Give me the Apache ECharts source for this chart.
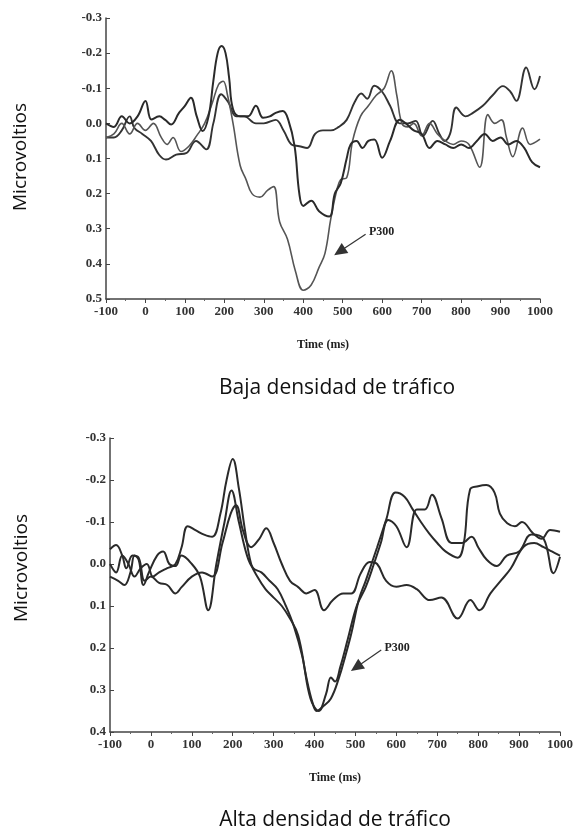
<!DOCTYPE html>
<html>
<head>
<meta charset="utf-8">
<script src="https://cdn.jsdelivr.net/npm/echarts/dist/echarts.min.js"></script>
<style>
  html, body { margin: 0; padding: 0; background: #fff; }
  #main { width: 576px; height: 834px; }
</style>
</head>
<body>
<div id="main"></div>
<script>
// Baja densidad (top panel) - three ERP waveforms, time in ms / value in microvolts
const topA_t = [-100,-80,-60,-40,-20,0,15,35,50,65,85,100,115,130,145,160,172,183,193,203,212,222,240,260,280,298,315,330,348,362,378,390,400,420,440,466,480,495,510,520,535,550,565,580,600,620,645,660,680,700,720,740,760,780,800,820,840,860,880,900,920,940,960,980,1000];
const topA_v = [0.0,0.01,-0.02,0.0,-0.02,-0.064,-0.011,-0.02,-0.01,0.003,-0.03,-0.05,-0.073,-0.02,0.022,-0.02,-0.12,-0.2,-0.22,-0.2,-0.13,-0.04,-0.02,-0.02,-0.05,-0.016,-0.02,-0.03,-0.035,-0.01,0.065,0.2,0.235,0.22,0.25,0.265,0.2,0.17,0.1,0.06,0.05,0.07,0.05,0.046,0.098,0.05,-0.01,0.0,0.02,0.03,0.07,0.05,0.06,0.07,0.06,0.07,0.05,0.03,0.05,0.04,0.06,0.05,0.07,0.11,0.125];

const topB_t = [-100,-80,-60,-40,-20,0,20,40,55,70,90,110,130,150,170,185,197,208,222,240,255,270,290,310,325,340,360,380,400,420,440,455,470,485,495,510,525,545,565,585,605,623,637,650,665,680,700,720,740,760,780,800,820,847,868,885,902,915,931,956,975,1000];
const topB_v = [0.04,0.03,0.0,0.03,0.0,0.02,0.0,0.04,0.06,0.04,0.08,0.065,0.035,0.0,-0.06,-0.11,-0.12,-0.08,0.0,0.12,0.16,0.2,0.21,0.19,0.18,0.28,0.33,0.42,0.475,0.46,0.41,0.37,0.27,0.19,0.16,0.155,0.05,-0.02,-0.05,-0.08,-0.1,-0.15,-0.08,0.0,0.01,0.0,0.035,0.0,0.03,0.05,0.06,0.05,0.06,0.125,-0.025,0.0,-0.01,0.04,0.095,0.013,0.06,0.045];

const topS_t = [-100,-80,-60,-40,-28,-8,14,35,52,78,103,128,154,172,192,210,230,250,280,300,330,350,370,390,410,430,450,470,490,510,530,547,562,580,600,620,644,665,685,703,728,745,758,772,788,811,830,855,880,906,925,940,965,986,1000];
const topS_v = [0.04,0.04,0.02,-0.02,0.013,0.03,0.05,0.09,0.103,0.089,0.085,0.05,0.074,0.0,-0.083,-0.06,-0.02,-0.02,0.0,0.0,-0.01,0.02,0.06,0.065,0.07,0.03,0.02,0.02,0.01,-0.01,-0.06,-0.085,-0.07,-0.107,-0.09,-0.05,0.0,0.0,-0.007,0.036,-0.007,0.03,0.05,0.03,-0.045,-0.02,-0.03,-0.05,-0.08,-0.106,-0.09,-0.064,-0.159,-0.097,-0.135];

// Alta densidad (bottom panel)
const botC_t = [-100,-85,-70,-55,-40,-25,-10,5,20,40,60,75,90,110,130,150,170,185,200,215,230,245,260,280,300,320,340,360,380,395,405,420,440,460,475,490,508,525,553,575,598,620,640,660,680,700,720,750,765,780,800,820,840,853,871,890,907,934,955,976,1000];
const botC_v = [0.0,0.02,-0.02,0.0,0.03,0.01,0.0,0.03,0.02,0.01,0.0,-0.04,-0.09,-0.08,-0.07,-0.065,-0.12,-0.2,-0.25,-0.18,-0.08,0.0,0.03,0.06,0.08,0.1,0.13,0.17,0.27,0.33,0.35,0.34,0.32,0.27,0.22,0.165,0.086,0.04,-0.04,-0.105,-0.17,-0.16,-0.13,-0.1,-0.073,-0.05,-0.03,-0.015,-0.05,-0.177,-0.185,-0.188,-0.17,-0.12,-0.097,-0.09,-0.1,-0.073,-0.06,-0.081,-0.077];

const botE_t = [-100,-80,-65,-50,-40,-30,-18,-5,15,30,45,60,75,100,120,140,160,180,197,215,235,250,270,290,310,330,350,370,390,410,428,440,450,463,481,503,525,545,562,580,600,625,650,670,687,710,735,760,784,800,821,845,870,900,930,960,984,1000];
const botE_v = [0.03,0.04,0.05,0.02,-0.02,-0.01,0.05,0.02,-0.02,-0.03,0.0,0.005,-0.02,0.0,0.03,0.11,0.0,-0.1,-0.175,-0.1,-0.02,0.01,0.02,0.04,0.06,0.1,0.15,0.22,0.32,0.35,0.31,0.27,0.28,0.245,0.18,0.1,0.055,0.0,-0.05,-0.105,-0.09,-0.04,-0.13,-0.13,-0.165,-0.11,-0.05,-0.05,-0.065,-0.04,-0.01,0.005,-0.02,-0.03,-0.07,-0.06,0.022,-0.017];

const botD_t = [-100,-85,-70,-60,-45,-30,-15,0,20,40,60,75,100,125,150,175,195,208,225,245,265,282,300,320,340,360,380,400,423,445,470,490,513,535,553,575,600,625,650,682,710,750,781,803,830,857,880,911,937,960,980,1000];
const botD_v = [-0.035,-0.045,-0.02,0.01,-0.02,-0.015,0.04,0.03,0.045,0.05,0.07,0.055,0.03,0.02,0.03,-0.05,-0.12,-0.14,-0.08,-0.04,-0.06,-0.085,-0.05,0.0,0.04,0.055,0.07,0.062,0.11,0.086,0.07,0.07,0.022,-0.005,0.0,0.04,0.054,0.05,0.06,0.086,0.08,0.13,0.086,0.11,0.07,0.038,0.01,-0.041,-0.05,-0.04,-0.03,-0.02];

// P300 arrow: [tip, tail] in data units
const topArrow = [[492, 0.365], [558, 0.316]];
const botArrow = [[502, 0.246], [563, 0.205]];

const serif = '"Liberation Serif", "DejaVu Serif", serif';
const sans = '"Open Sans", "Noto Sans", sans-serif';

function pairs(t, v) {
    return t.map((x, i) => [x, v[i]]);
}

function wave(idx, t, v, color, width) {
    return {
        type: 'line',
        xAxisIndex: idx,
        yAxisIndex: idx,
        data: pairs(t, v),
        smooth: 0.4,
        symbol: 'none',
        lineStyle: { color: color, width: width }
    };
}

function arrow(a) {
    return {
        silent: true,
        animation: false,
        symbol: ['triangle', 'none'],
        symbolSize: [12, 13],
        lineStyle: { color: '#333', width: 1.2, type: 'solid' },
        label: {
            show: true, position: 'end', formatter: 'P300', distance: 4,
            fontFamily: serif, fontWeight: 'bold', fontSize: 12, color: '#222'
        },
        data: [[{ coord: a[0] }, { coord: a[1] }]]
    };
}

function xAx(idx) {
    return {
        type: 'value', gridIndex: idx,
        min: -100, max: 1000, interval: 100,
        name: 'Time (ms)', nameLocation: 'middle', nameGap: 40,
        nameTextStyle: { fontFamily: serif, fontWeight: 'bold', fontSize: 12, color: '#222' },
        axisLine: { onZero: false, lineStyle: { color: '#444', width: 1.5 } },
        axisTick: { length: 4, lineStyle: { color: '#444' } },
        minorTick: { show: true, splitNumber: 2, length: 2, lineStyle: { color: '#666' } },
        splitLine: { show: false },
        axisLabel: {
            fontFamily: serif, fontWeight: 'bold', fontSize: 13, color: '#333', margin: 6,
            formatter: v => String(v)
        }
    };
}

function yAx(idx, max) {
    return {
        type: 'value', gridIndex: idx, inverse: true,
        min: -0.3, max: max, interval: 0.1,
        axisLine: { show: true, onZero: false, lineStyle: { color: '#444', width: 1.5 } },
        axisTick: { show: true, inside: true, length: 4, lineStyle: { color: '#444' } },
        splitLine: { show: false },
        axisLabel: {
            fontFamily: serif, fontWeight: 'bold', fontSize: 13, color: '#333', margin: 4,
            formatter: v => v.toFixed(1)
        }
    };
}

function sideText(text, x, y, rot, size) {
    return {
        type: 'text', x: x, y: y, rotation: rot,
        style: { text: text, font: size + 'px ' + sans, fill: '#111', align: 'center', verticalAlign: 'middle' }
    };
}

const chart = echarts.init(document.getElementById('main'));

const topSeries = [
    wave(0, topS_t, topS_v, '#333', 1.9),
    wave(0, topB_t, topB_v, '#555', 1.6),
    wave(0, topA_t, topA_v, '#2a2a2a', 2)
];
topSeries[1].markLine = arrow(topArrow);

const botSeries = [
    wave(1, botD_t, botD_v, '#2a2a2a', 2),
    wave(1, botE_t, botE_v, '#2a2a2a', 2),
    wave(1, botC_t, botC_v, '#2a2a2a', 2)
];
botSeries[1].markLine = arrow(botArrow);

chart.setOption({
    animation: false,
    backgroundColor: '#fff',
    grid: [
        { left: 106, top: 18, width: 434, height: 281 },
        { left: 110, top: 438, width: 451, height: 294 }
    ],
    xAxis: [xAx(0), xAx(1)],
    yAxis: [yAx(0, 0.5), yAx(1, 0.4)],
    series: topSeries.concat(botSeries),
    graphic: [
        sideText('Microvoltios', 21, 157, Math.PI / 2, 19),
        sideText('Microvoltios', 22, 568, Math.PI / 2, 19),
        sideText('Baja densidad de tráfico', 337, 388, 0, 21),
        sideText('Alta densidad de tráfico', 335, 820, 0, 21)
    ]
});
</script>
</body>
</html>
